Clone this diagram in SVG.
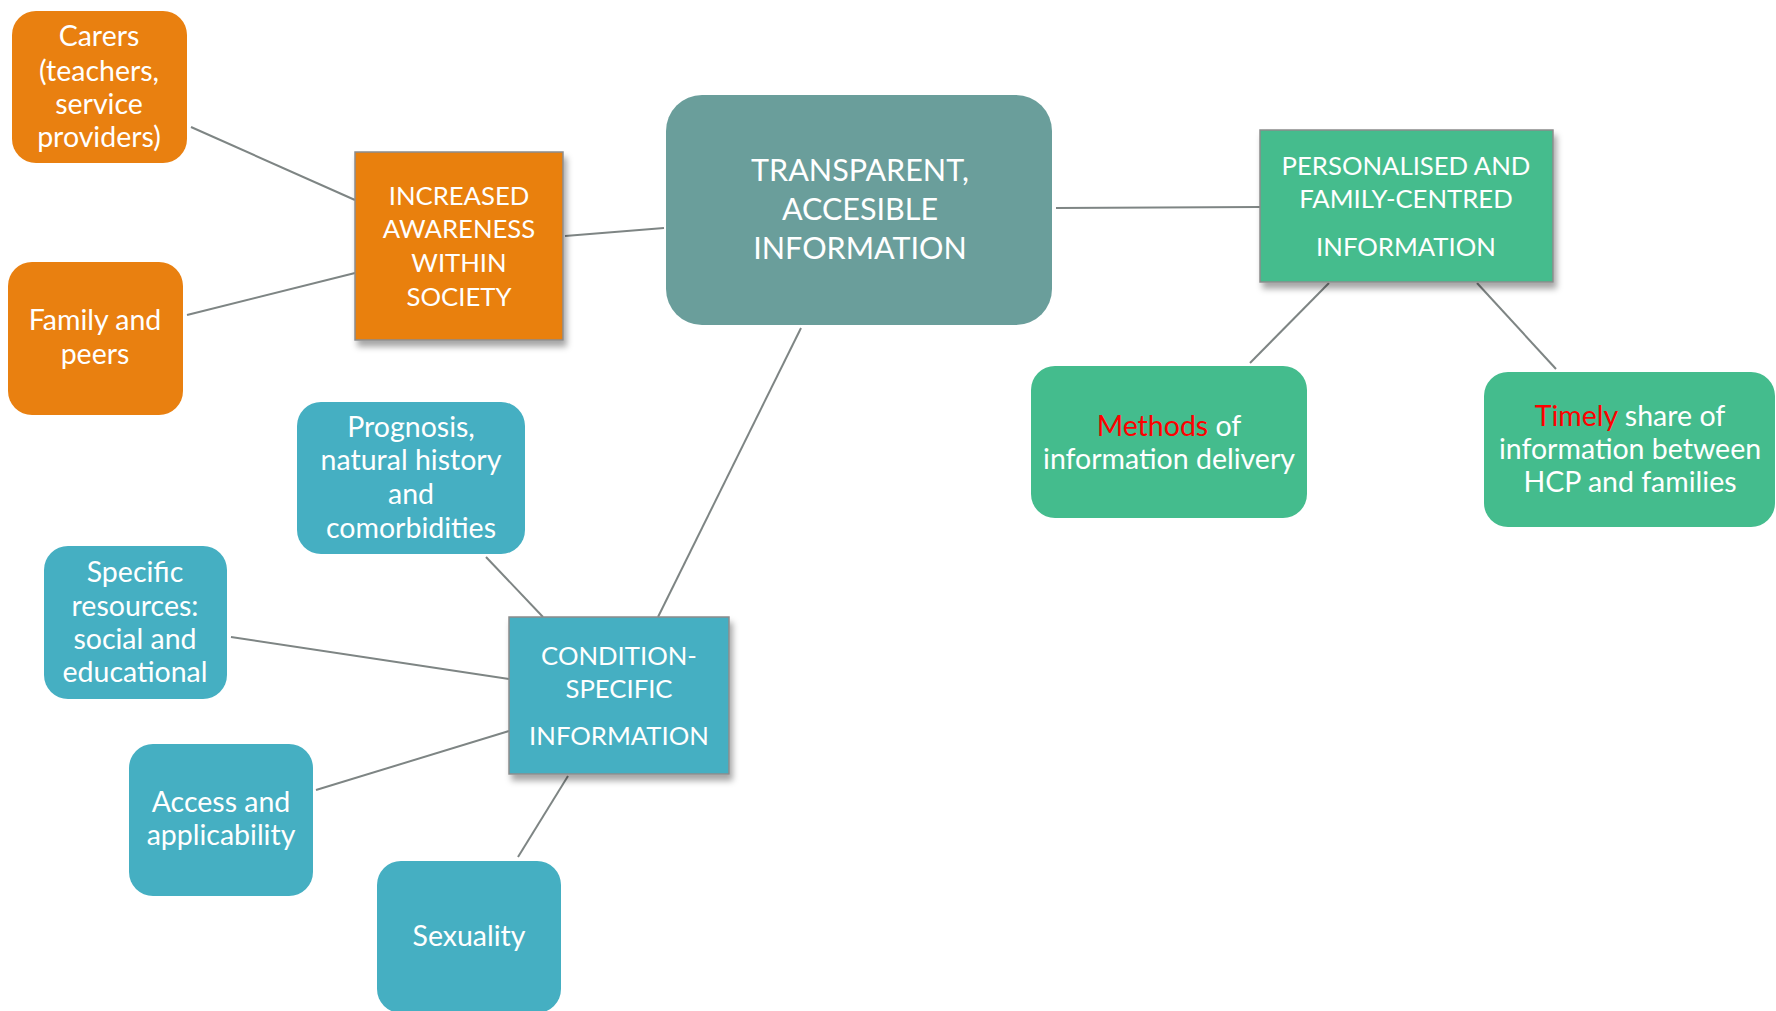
<svg xmlns="http://www.w3.org/2000/svg" width="1776" height="1011" viewBox="0 0 1776 1011">
<defs>
<filter id="sh" x="-10%" y="-10%" width="125%" height="130%">
<feDropShadow dx="3" dy="6" stdDeviation="3" flood-color="#000" flood-opacity="0.35"/>
</filter>
<style>
.orange{fill:#E98010}
.teal{fill:#6A9E9B}
.green{fill:#44BC8D}
.blue{fill:#45AFC2}
.sq{stroke:#8C8C8C;stroke-width:1.5;filter:url(#sh)}
text{font-family:Lato,"Open Sans","Noto Sans",sans-serif;fill:#FFFFFF;text-anchor:middle}
.s{font-size:28.5px}
.c{font-size:25.7px}
.big{font-size:30.5px}
.red{fill:#FF0000}
.conn line{stroke:#7E8584;stroke-width:2}
</style>
</defs>
<rect width="1776" height="1011" fill="#FFFFFF"/>
<g class="conn" id="connectors">
<line x1="191" y1="127" x2="355" y2="200"/>
<line x1="187" y1="315" x2="355" y2="273"/>
<line x1="565" y1="236" x2="664" y2="228"/>
<line x1="1056" y1="208" x2="1260" y2="207"/>
<line x1="801" y1="328" x2="658" y2="617"/>
<line x1="1329" y1="283" x2="1250" y2="363"/>
<line x1="1477" y1="283" x2="1556" y2="369"/>
<line x1="486" y1="557" x2="543" y2="617"/>
<line x1="231" y1="637" x2="509" y2="679"/>
<line x1="316" y1="790" x2="509" y2="731"/>
<line x1="518" y1="857" x2="568" y2="776"/>
</g>
<g id="carers">
<rect class="orange" x="12" y="11" width="175" height="152" rx="24"/>
<text class="s" x="99" y="46">Carers</text>
<text class="s" x="99" y="81">(teachers,</text>
<text class="s" x="99" y="114">service</text>
<text class="s" x="99" y="147">providers)</text>
</g>
<g id="family">
<rect class="orange" x="8" y="262" width="175" height="153" rx="24"/>
<text class="s" x="95" y="330">Family and</text>
<text class="s" x="95" y="364">peers</text>
</g>
<g id="awareness">
<rect class="orange sq" x="355" y="152" width="208" height="188"/>
<text class="c" x="459" y="205">INCREASED</text>
<text class="c" x="459" y="238">AWARENESS</text>
<text class="c" x="459" y="272">WITHIN</text>
<text class="c" x="459" y="306">SOCIETY</text>
</g>
<g id="central">
<rect class="teal" x="666" y="95" width="386" height="230" rx="36"/>
<text class="big" x="860" y="181">TRANSPARENT,</text>
<text class="big" x="860" y="220">ACCESIBLE</text>
<text class="big" x="860" y="259">INFORMATION</text>
</g>
<g id="personalised">
<rect class="green sq" x="1260" y="130" width="293" height="152"/>
<text class="c" x="1406" y="175">PERSONALISED AND</text>
<text class="c" x="1406" y="208">FAMILY-CENTRED</text>
<text class="c" x="1406" y="256">INFORMATION</text>
</g>
<g id="methods">
<rect class="green" x="1031" y="366" width="276" height="152" rx="24"/>
<text class="s" x="1169" y="436"><tspan class="red">Methods</tspan> of</text>
<text class="s" x="1169" y="469">information delivery</text>
</g>
<g id="timely">
<rect class="green" x="1484" y="372" width="291" height="155" rx="24"/>
<text class="s" x="1630" y="426"><tspan class="red">Timely</tspan> share of</text>
<text class="s" x="1630" y="459">information between</text>
<text class="s" x="1630" y="492">HCP and families</text>
</g>
<g id="condition">
<rect class="blue sq" x="509" y="617" width="220" height="157"/>
<text class="c" x="619" y="665">CONDITION-</text>
<text class="c" x="619" y="698">SPECIFIC</text>
<text class="c" x="619" y="745">INFORMATION</text>
</g>
<g id="prognosis">
<rect class="blue" x="297" y="402" width="228" height="152" rx="24"/>
<text class="s" x="411" y="437">Prognosis,</text>
<text class="s" x="411" y="470">natural history</text>
<text class="s" x="411" y="504">and</text>
<text class="s" x="411" y="538">comorbidities</text>
</g>
<g id="specific">
<rect class="blue" x="44" y="546" width="183" height="153" rx="24"/>
<text class="s" x="135" y="582">Specific</text>
<text class="s" x="135" y="616">resources:</text>
<text class="s" x="135" y="649">social and</text>
<text class="s" x="135" y="682">educational</text>
</g>
<g id="access">
<rect class="blue" x="129" y="744" width="184" height="152" rx="24"/>
<text class="s" x="221" y="812">Access and</text>
<text class="s" x="221" y="845">applicability</text>
</g>
<g id="sexuality">
<rect class="blue" x="377" y="861" width="184" height="152" rx="24"/>
<text class="s" x="469" y="946">Sexuality</text>
</g>
</svg>
